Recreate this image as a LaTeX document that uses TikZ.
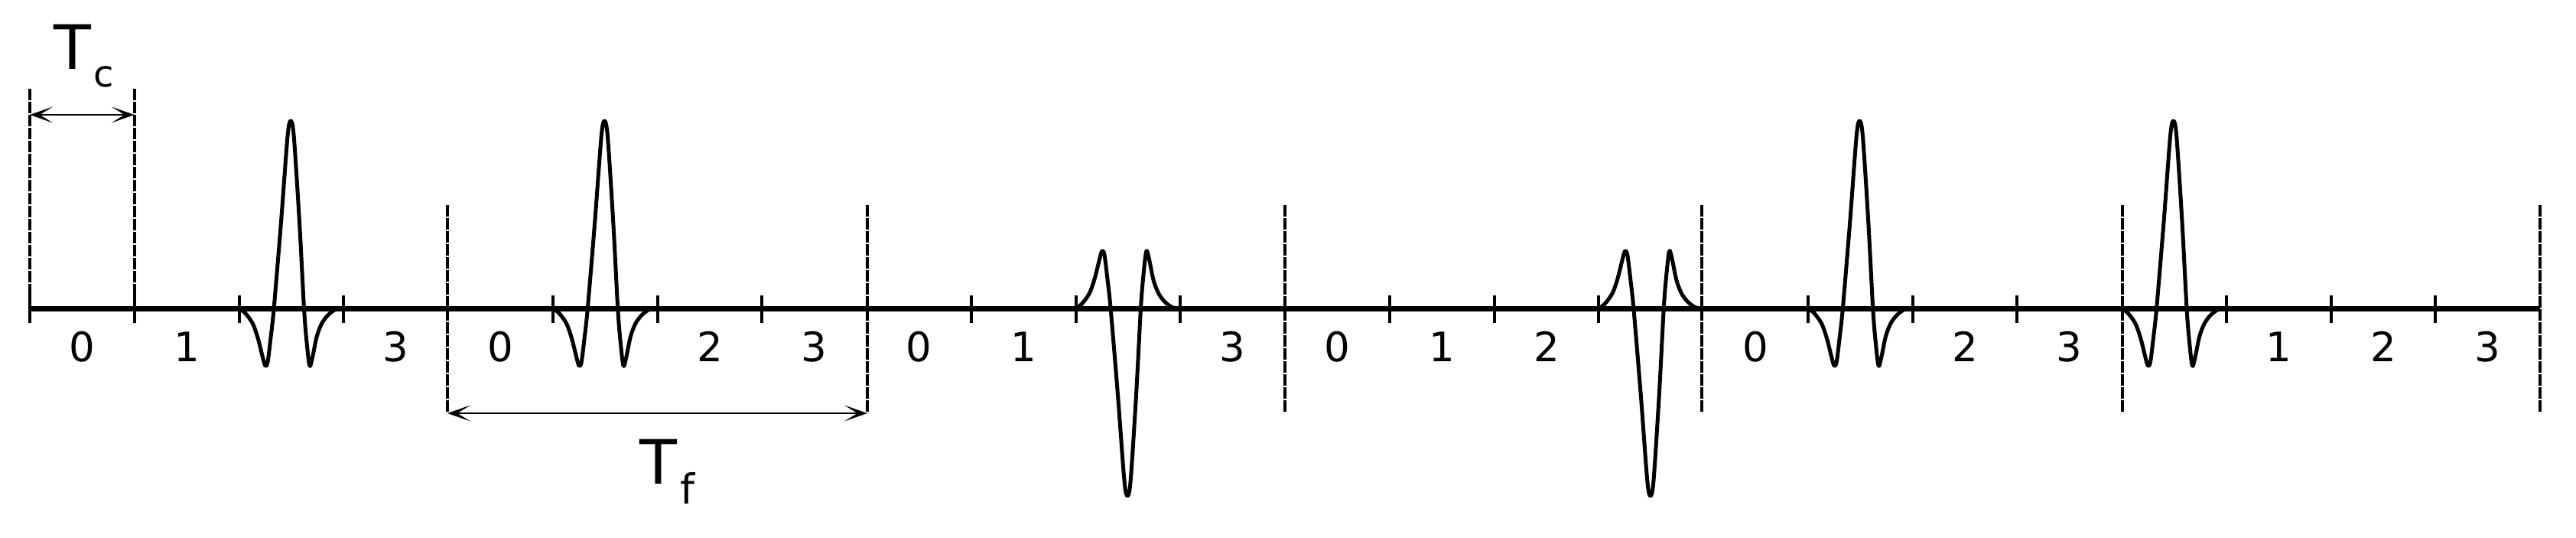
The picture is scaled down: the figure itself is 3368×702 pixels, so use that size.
\documentclass[tikz,border=0pt]{standalone}
\usepackage{fontspec}
\setmainfont{DejaVu Sans}
\usetikzlibrary{arrows.meta}
\tikzset{
  axisline/.style={line width=7pt},
  tickline/.style={line width=4pt},
  frameline/.style={line width=4pt, dash pattern=on 14.5pt off 2.5pt},
  pulseline/.style={line width=5pt, line join=round, line cap=round},
  dimarrow/.style={line width=2.5pt,
    {Stealth[length=30pt,width=21pt,inset=17pt]}-{Stealth[length=30pt,width=21pt,inset=17pt]}},
  chiplabel/.style={font=\fontsize{53}{60}\selectfont, inner sep=0pt, anchor=base},
  bigT/.style={font=\fontsize{80}{90}\selectfont, inner sep=0pt, anchor=base west},
  pics/uwb/.style={code={
    \draw[pulseline] plot[smooth, tension=0.5] coordinates {
      (0,0) (8,6) (18,20) (25,40) (31,64) (34.3,75) (37.5,70) (41.6,37) (45.6,0)
      (55,-113) (63.5,-225) (67.6,-245) (71.7,-225) (79,-113) (85,0)
      (88.5,44) (92.3,75) (96,64) (101.6,37) (108,20) (116,9) (125,2) (132,0) (137,0)};
  }},
}
\begin{document}
\begin{tikzpicture}[x=1pt, y=-1pt]
\useasboundingbox (0,0) rectangle (3368,702);

% Tc boundary lines
\coordinate (c0t) at (39,116);
\coordinate (c0b) at (39,422);
\coordinate (c1t) at (175.75,116);
\coordinate (c1b) at (175.75,422);
\coordinate (c0a) at (39,150);
\coordinate (c1a) at (175.75,150);
\draw[frameline] (c0t) -- (c0b);
\draw[frameline] (c1t) -- (c1b);

% frame boundary lines
\foreach \i/\x in {1/585, 2/1134, 3/1680, 4/2225, 5/2775, 6/3321} {
  \coordinate (f\i t) at (\x,268);
  \coordinate (f\i b) at (\x,540);
  \draw[frameline] (f\i t) -- (f\i b);
}

% axis
\coordinate (a0) at (39,403);
\coordinate (a1) at (3321,403);
\draw[axisline] (a0) -- (a1);

% ticks
\foreach \k in {0,1,2,3,5,6,7,9,10,11,13,14,15,17,18,19,21,22,23}
  \draw[tickline] ({39+136.75*\k},386) -- ({39+136.75*\k},422);

% pulses
\pic at (312.5,403) {uwb};
\pic at (722.75,403) {uwb};
\pic[yscale=-1] at (1406.5,403) {uwb};
\pic[yscale=-1] at (2090.25,403) {uwb};
\pic at (2363.75,403) {uwb};
\pic at (2774,403) {uwb};

% chip labels
\foreach \k/\d in {0/0,1/1,3/3,4/0,6/2,7/3,8/0,9/1,11/3,12/0,13/1,14/2,16/0,18/2,19/3,21/1,22/2,23/3}
  \node[chiplabel] (n\k) at ({39+136.75*(\k+0.5)},472) {\d};

% dimension arrows
\draw[dimarrow] (c0a) -- (c1a);
\draw[dimarrow] (f1b) -- (f2b);

% labels
\node[bigT] (Tc) at (70,90) {T};
\node[font=\fontsize{48}{56}\selectfont, inner sep=0pt, anchor=base west] (Tcs) at (122,113) {c};
\node[bigT] (Tf) at (836,632) {T};
\node[font=\fontsize{54}{60}\selectfont, inner sep=0pt, anchor=base west] (Tfs) at (889,658) {f};
\end{tikzpicture}
\end{document}
